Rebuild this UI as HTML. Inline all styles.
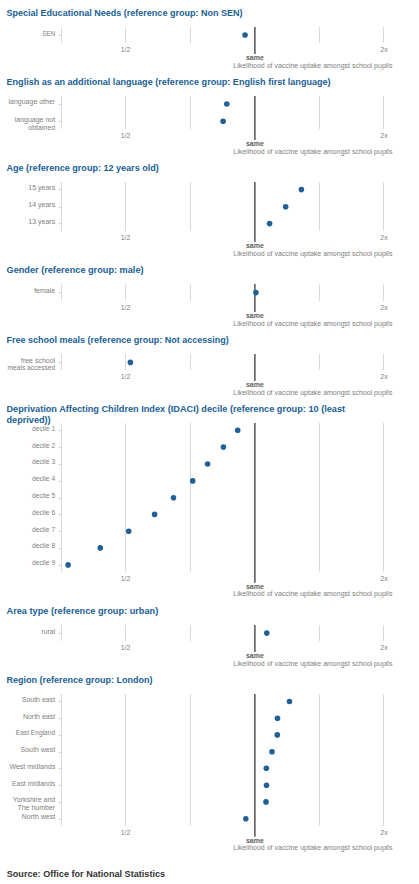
<!DOCTYPE html><html><head><meta charset="utf-8"><style>html,body{margin:0;padding:0;background:#fff;width:419px;height:884px;overflow:hidden}svg{display:block}text{font-family:"Liberation Sans",sans-serif}</style></head><body>
<svg width="419" height="884" viewBox="0 0 419 884">
<text x="6.5" y="15.5" font-size="9" font-weight="bold" fill="#206095" textLength="236.06" lengthAdjust="spacingAndGlyphs">Special Educational Needs (reference group: Non SEN)</text>
<line x1="61.5" y1="27.0" x2="61.5" y2="43.0" stroke="#d9d9d9" stroke-width="1"/>
<line x1="125.5" y1="27.0" x2="125.5" y2="43.0" stroke="#d9d9d9" stroke-width="1"/>
<line x1="190.5" y1="27.0" x2="190.5" y2="43.0" stroke="#d9d9d9" stroke-width="1"/>
<line x1="319.5" y1="27.0" x2="319.5" y2="43.0" stroke="#d9d9d9" stroke-width="1"/>
<line x1="383.5" y1="27.0" x2="383.5" y2="43.0" stroke="#d9d9d9" stroke-width="1"/>
<line x1="58" y1="35.5" x2="61" y2="35.5" stroke="#d9d9d9" stroke-width="1"/>
<text x="55.2" y="36.1" font-size="7" fill="#808080" text-anchor="end" textLength="12.91" lengthAdjust="spacingAndGlyphs">SEN</text>
<line x1="254.85" y1="27.0" x2="254.85" y2="54.0" stroke="#666666" stroke-width="1.7"/>
<text x="125.5" y="51.9" font-size="7" fill="#808080" text-anchor="middle">1/2</text>
<text x="384" y="51.9" font-size="7" fill="#808080" text-anchor="middle">2x</text>
<text x="254.85" y="59.8" font-size="7" font-weight="bold" fill="#606060" text-anchor="middle">same</text>
<text x="392.4" y="67.7" font-size="7" fill="#808080" text-anchor="end">Likelihood of vaccine uptake amongst school pupils</text>
<circle cx="245.05" cy="35.05" r="2.8" fill="#206095"/>
<text x="6.5" y="85.4" font-size="9" font-weight="bold" fill="#206095" textLength="324.16" lengthAdjust="spacingAndGlyphs">English as an additional language (reference group: English first language)</text>
<line x1="61.5" y1="96.0" x2="61.5" y2="129.0" stroke="#d9d9d9" stroke-width="1"/>
<line x1="125.5" y1="96.0" x2="125.5" y2="129.0" stroke="#d9d9d9" stroke-width="1"/>
<line x1="190.5" y1="96.0" x2="190.5" y2="129.0" stroke="#d9d9d9" stroke-width="1"/>
<line x1="319.5" y1="96.0" x2="319.5" y2="129.0" stroke="#d9d9d9" stroke-width="1"/>
<line x1="383.5" y1="96.0" x2="383.5" y2="129.0" stroke="#d9d9d9" stroke-width="1"/>
<line x1="58" y1="104.5" x2="61" y2="104.5" stroke="#d9d9d9" stroke-width="1"/>
<text x="55.2" y="104.4" font-size="7" fill="#808080" text-anchor="end">language other</text>
<line x1="58" y1="121.5" x2="61" y2="121.5" stroke="#d9d9d9" stroke-width="1"/>
<text x="55.2" y="121.6" font-size="7" fill="#808080" text-anchor="end">language not</text>
<text x="55.2" y="129.6" font-size="7" fill="#808080" text-anchor="end">obtained</text>
<line x1="254.85" y1="96.0" x2="254.85" y2="140.0" stroke="#666666" stroke-width="1.7"/>
<text x="125.5" y="137.9" font-size="7" fill="#808080" text-anchor="middle">1/2</text>
<text x="384" y="137.9" font-size="7" fill="#808080" text-anchor="middle">2x</text>
<text x="254.85" y="145.8" font-size="7" font-weight="bold" fill="#606060" text-anchor="middle">same</text>
<text x="392.4" y="153.7" font-size="7" fill="#808080" text-anchor="end">Likelihood of vaccine uptake amongst school pupils</text>
<circle cx="226.8" cy="104.0" r="2.8" fill="#206095"/>
<circle cx="223.1" cy="121.3" r="2.8" fill="#206095"/>
<text x="6.5" y="171.0" font-size="9" font-weight="bold" fill="#206095" textLength="152.25" lengthAdjust="spacingAndGlyphs">Age (reference group: 12 years old)</text>
<line x1="61.5" y1="182.0" x2="61.5" y2="231.0" stroke="#d9d9d9" stroke-width="1"/>
<line x1="125.5" y1="182.0" x2="125.5" y2="231.0" stroke="#d9d9d9" stroke-width="1"/>
<line x1="190.5" y1="182.0" x2="190.5" y2="231.0" stroke="#d9d9d9" stroke-width="1"/>
<line x1="319.5" y1="182.0" x2="319.5" y2="231.0" stroke="#d9d9d9" stroke-width="1"/>
<line x1="383.5" y1="182.0" x2="383.5" y2="231.0" stroke="#d9d9d9" stroke-width="1"/>
<line x1="58" y1="189.5" x2="61" y2="189.5" stroke="#d9d9d9" stroke-width="1"/>
<text x="55.2" y="189.8" font-size="7" fill="#808080" text-anchor="end">15 years</text>
<line x1="58" y1="207.5" x2="61" y2="207.5" stroke="#d9d9d9" stroke-width="1"/>
<text x="55.2" y="206.8" font-size="7" fill="#808080" text-anchor="end">14 years</text>
<line x1="58" y1="223.5" x2="61" y2="223.5" stroke="#d9d9d9" stroke-width="1"/>
<text x="55.2" y="223.8" font-size="7" fill="#808080" text-anchor="end">13 years</text>
<line x1="254.85" y1="182.0" x2="254.85" y2="242.0" stroke="#666666" stroke-width="1.7"/>
<text x="125.5" y="239.9" font-size="7" fill="#808080" text-anchor="middle">1/2</text>
<text x="384" y="239.9" font-size="7" fill="#808080" text-anchor="middle">2x</text>
<text x="254.85" y="247.8" font-size="7" font-weight="bold" fill="#606060" text-anchor="middle">same</text>
<text x="392.4" y="255.7" font-size="7" fill="#808080" text-anchor="end">Likelihood of vaccine uptake amongst school pupils</text>
<circle cx="301.4" cy="189.6" r="2.8" fill="#206095"/>
<circle cx="285.7" cy="206.7" r="2.8" fill="#206095"/>
<circle cx="269.6" cy="223.6" r="2.8" fill="#206095"/>
<text x="6.5" y="273.4" font-size="9" font-weight="bold" fill="#206095" textLength="137.05" lengthAdjust="spacingAndGlyphs">Gender (reference group: male)</text>
<line x1="61.5" y1="284.0" x2="61.5" y2="301.0" stroke="#d9d9d9" stroke-width="1"/>
<line x1="125.5" y1="284.0" x2="125.5" y2="301.0" stroke="#d9d9d9" stroke-width="1"/>
<line x1="190.5" y1="284.0" x2="190.5" y2="301.0" stroke="#d9d9d9" stroke-width="1"/>
<line x1="319.5" y1="284.0" x2="319.5" y2="301.0" stroke="#d9d9d9" stroke-width="1"/>
<line x1="383.5" y1="284.0" x2="383.5" y2="301.0" stroke="#d9d9d9" stroke-width="1"/>
<line x1="58" y1="292.5" x2="61" y2="292.5" stroke="#d9d9d9" stroke-width="1"/>
<text x="55.2" y="292.6" font-size="7" fill="#808080" text-anchor="end">female</text>
<line x1="254.85" y1="284.0" x2="254.85" y2="312.0" stroke="#666666" stroke-width="1.7"/>
<text x="125.5" y="309.9" font-size="7" fill="#808080" text-anchor="middle">1/2</text>
<text x="384" y="309.9" font-size="7" fill="#808080" text-anchor="middle">2x</text>
<text x="254.85" y="317.8" font-size="7" font-weight="bold" fill="#606060" text-anchor="middle">same</text>
<text x="392.4" y="325.7" font-size="7" fill="#808080" text-anchor="end">Likelihood of vaccine uptake amongst school pupils</text>
<circle cx="255.9" cy="292.6" r="2.8" fill="#206095"/>
<text x="6.5" y="343.0" font-size="9" font-weight="bold" fill="#206095" textLength="222.28" lengthAdjust="spacingAndGlyphs">Free school meals (reference group: Not accessing)</text>
<line x1="61.5" y1="354.0" x2="61.5" y2="370.0" stroke="#d9d9d9" stroke-width="1"/>
<line x1="125.5" y1="354.0" x2="125.5" y2="370.0" stroke="#d9d9d9" stroke-width="1"/>
<line x1="190.5" y1="354.0" x2="190.5" y2="370.0" stroke="#d9d9d9" stroke-width="1"/>
<line x1="319.5" y1="354.0" x2="319.5" y2="370.0" stroke="#d9d9d9" stroke-width="1"/>
<line x1="383.5" y1="354.0" x2="383.5" y2="370.0" stroke="#d9d9d9" stroke-width="1"/>
<line x1="58" y1="362.5" x2="61" y2="362.5" stroke="#d9d9d9" stroke-width="1"/>
<text x="55.2" y="363.3" font-size="7" fill="#808080" text-anchor="end">free school</text>
<text x="55.2" y="370.1" font-size="7" fill="#808080" text-anchor="end" textLength="47.70" lengthAdjust="spacingAndGlyphs">meals accessed</text>
<line x1="254.85" y1="354.0" x2="254.85" y2="381.0" stroke="#666666" stroke-width="1.7"/>
<text x="125.5" y="378.9" font-size="7" fill="#808080" text-anchor="middle">1/2</text>
<text x="384" y="378.9" font-size="7" fill="#808080" text-anchor="middle">2x</text>
<text x="254.85" y="386.8" font-size="7" font-weight="bold" fill="#606060" text-anchor="middle">same</text>
<text x="392.4" y="394.7" font-size="7" fill="#808080" text-anchor="end">Likelihood of vaccine uptake amongst school pupils</text>
<circle cx="130.4" cy="362.4" r="2.8" fill="#206095"/>
<text x="6.5" y="411.8" font-size="9" font-weight="bold" fill="#206095" textLength="338.63" lengthAdjust="spacingAndGlyphs">Deprivation Affecting Children Index (IDACI) decile (reference group: 10 (least</text>
<text x="6.5" y="423.1" font-size="9" font-weight="bold" fill="#206095" textLength="44.12" lengthAdjust="spacingAndGlyphs">deprived))</text>
<line x1="61.5" y1="423.0" x2="61.5" y2="571.7" stroke="#d9d9d9" stroke-width="1"/>
<line x1="125.5" y1="423.0" x2="125.5" y2="571.7" stroke="#d9d9d9" stroke-width="1"/>
<line x1="190.5" y1="423.0" x2="190.5" y2="571.7" stroke="#d9d9d9" stroke-width="1"/>
<line x1="319.5" y1="423.0" x2="319.5" y2="571.7" stroke="#d9d9d9" stroke-width="1"/>
<line x1="383.5" y1="423.0" x2="383.5" y2="571.7" stroke="#d9d9d9" stroke-width="1"/>
<line x1="58" y1="430.5" x2="61" y2="430.5" stroke="#d9d9d9" stroke-width="1"/>
<text x="55.2" y="431.0" font-size="7" fill="#808080" text-anchor="end" textLength="23.24" lengthAdjust="spacingAndGlyphs">decile 1</text>
<line x1="58" y1="447.5" x2="61" y2="447.5" stroke="#d9d9d9" stroke-width="1"/>
<text x="55.2" y="448.1" font-size="7" fill="#808080" text-anchor="end" textLength="23.24" lengthAdjust="spacingAndGlyphs">decile 2</text>
<line x1="58" y1="464.5" x2="61" y2="464.5" stroke="#d9d9d9" stroke-width="1"/>
<text x="55.2" y="464.2" font-size="7" fill="#808080" text-anchor="end" textLength="23.24" lengthAdjust="spacingAndGlyphs">decile 3</text>
<line x1="58" y1="481.5" x2="61" y2="481.5" stroke="#d9d9d9" stroke-width="1"/>
<text x="55.2" y="481.1" font-size="7" fill="#808080" text-anchor="end" textLength="23.24" lengthAdjust="spacingAndGlyphs">decile 4</text>
<line x1="58" y1="498.5" x2="61" y2="498.5" stroke="#d9d9d9" stroke-width="1"/>
<text x="55.2" y="498.0" font-size="7" fill="#808080" text-anchor="end" textLength="23.24" lengthAdjust="spacingAndGlyphs">decile 5</text>
<line x1="58" y1="514.5" x2="61" y2="514.5" stroke="#d9d9d9" stroke-width="1"/>
<text x="55.2" y="514.8" font-size="7" fill="#808080" text-anchor="end" textLength="23.24" lengthAdjust="spacingAndGlyphs">decile 6</text>
<line x1="58" y1="531.5" x2="61" y2="531.5" stroke="#d9d9d9" stroke-width="1"/>
<text x="55.2" y="531.5" font-size="7" fill="#808080" text-anchor="end" textLength="23.24" lengthAdjust="spacingAndGlyphs">decile 7</text>
<line x1="58" y1="548.5" x2="61" y2="548.5" stroke="#d9d9d9" stroke-width="1"/>
<text x="55.2" y="548.4" font-size="7" fill="#808080" text-anchor="end" textLength="23.24" lengthAdjust="spacingAndGlyphs">decile 8</text>
<line x1="58" y1="565.5" x2="61" y2="565.5" stroke="#d9d9d9" stroke-width="1"/>
<text x="55.2" y="564.8" font-size="7" fill="#808080" text-anchor="end" textLength="23.24" lengthAdjust="spacingAndGlyphs">decile 9</text>
<line x1="254.85" y1="423.0" x2="254.85" y2="582.7" stroke="#666666" stroke-width="1.7"/>
<text x="125.5" y="580.6" font-size="7" fill="#808080" text-anchor="middle">1/2</text>
<text x="384" y="580.6" font-size="7" fill="#808080" text-anchor="middle">2x</text>
<text x="254.85" y="588.5" font-size="7" font-weight="bold" fill="#606060" text-anchor="middle">same</text>
<text x="392.4" y="596.4" font-size="7" fill="#808080" text-anchor="end">Likelihood of vaccine uptake amongst school pupils</text>
<circle cx="237.7" cy="430.2" r="2.8" fill="#206095"/>
<circle cx="223.4" cy="447.1" r="2.8" fill="#206095"/>
<circle cx="207.6" cy="464.0" r="2.8" fill="#206095"/>
<circle cx="192.7" cy="480.9" r="2.8" fill="#206095"/>
<circle cx="173.5" cy="497.8" r="2.8" fill="#206095"/>
<circle cx="154.6" cy="514.4" r="2.8" fill="#206095"/>
<circle cx="128.7" cy="531.2" r="2.8" fill="#206095"/>
<circle cx="100.3" cy="547.9" r="2.8" fill="#206095"/>
<circle cx="68.1" cy="564.9" r="2.8" fill="#206095"/>
<text x="6.5" y="613.7" font-size="9" font-weight="bold" fill="#206095" textLength="151.73" lengthAdjust="spacingAndGlyphs">Area type (reference group: urban)</text>
<line x1="61.5" y1="625.0" x2="61.5" y2="641.0" stroke="#d9d9d9" stroke-width="1"/>
<line x1="125.5" y1="625.0" x2="125.5" y2="641.0" stroke="#d9d9d9" stroke-width="1"/>
<line x1="190.5" y1="625.0" x2="190.5" y2="641.0" stroke="#d9d9d9" stroke-width="1"/>
<line x1="319.5" y1="625.0" x2="319.5" y2="641.0" stroke="#d9d9d9" stroke-width="1"/>
<line x1="383.5" y1="625.0" x2="383.5" y2="641.0" stroke="#d9d9d9" stroke-width="1"/>
<line x1="58" y1="633.5" x2="61" y2="633.5" stroke="#d9d9d9" stroke-width="1"/>
<text x="55.2" y="634.3" font-size="7" fill="#808080" text-anchor="end">rural</text>
<line x1="254.85" y1="625.0" x2="254.85" y2="652.0" stroke="#666666" stroke-width="1.7"/>
<text x="125.5" y="649.9" font-size="7" fill="#808080" text-anchor="middle">1/2</text>
<text x="384" y="649.9" font-size="7" fill="#808080" text-anchor="middle">2x</text>
<text x="254.85" y="657.8" font-size="7" font-weight="bold" fill="#606060" text-anchor="middle">same</text>
<text x="392.4" y="665.7" font-size="7" fill="#808080" text-anchor="end">Likelihood of vaccine uptake amongst school pupils</text>
<circle cx="266.8" cy="633.1" r="2.8" fill="#206095"/>
<text x="6.5" y="682.6" font-size="9" font-weight="bold" fill="#206095" textLength="145.90" lengthAdjust="spacingAndGlyphs">Region (reference group: London)</text>
<line x1="61.5" y1="694.0" x2="61.5" y2="825.7" stroke="#d9d9d9" stroke-width="1"/>
<line x1="125.5" y1="694.0" x2="125.5" y2="825.7" stroke="#d9d9d9" stroke-width="1"/>
<line x1="190.5" y1="694.0" x2="190.5" y2="825.7" stroke="#d9d9d9" stroke-width="1"/>
<line x1="319.5" y1="694.0" x2="319.5" y2="825.7" stroke="#d9d9d9" stroke-width="1"/>
<line x1="383.5" y1="694.0" x2="383.5" y2="825.7" stroke="#d9d9d9" stroke-width="1"/>
<line x1="58" y1="701.5" x2="61" y2="701.5" stroke="#d9d9d9" stroke-width="1"/>
<text x="55.2" y="702.4" font-size="7" fill="#808080" text-anchor="end">South east</text>
<line x1="58" y1="718.5" x2="61" y2="718.5" stroke="#d9d9d9" stroke-width="1"/>
<text x="55.2" y="719.0" font-size="7" fill="#808080" text-anchor="end">North east</text>
<line x1="58" y1="735.5" x2="61" y2="735.5" stroke="#d9d9d9" stroke-width="1"/>
<text x="55.2" y="735.2" font-size="7" fill="#808080" text-anchor="end" textLength="39.46" lengthAdjust="spacingAndGlyphs">East England</text>
<line x1="58" y1="752.5" x2="61" y2="752.5" stroke="#d9d9d9" stroke-width="1"/>
<text x="55.2" y="752.0" font-size="7" fill="#808080" text-anchor="end">South west</text>
<line x1="58" y1="768.5" x2="61" y2="768.5" stroke="#d9d9d9" stroke-width="1"/>
<text x="55.2" y="768.8" font-size="7" fill="#808080" text-anchor="end">West midlands</text>
<line x1="58" y1="785.5" x2="61" y2="785.5" stroke="#d9d9d9" stroke-width="1"/>
<text x="55.2" y="785.6" font-size="7" fill="#808080" text-anchor="end" textLength="43.17" lengthAdjust="spacingAndGlyphs">East midlands</text>
<line x1="58" y1="802.5" x2="61" y2="802.5" stroke="#d9d9d9" stroke-width="1"/>
<text x="55.2" y="802.4" font-size="7" fill="#808080" text-anchor="end">Yorkshire and</text>
<text x="55.2" y="810.3" font-size="7" fill="#808080" text-anchor="end">The humber</text>
<line x1="58" y1="819.5" x2="61" y2="819.5" stroke="#d9d9d9" stroke-width="1"/>
<text x="55.2" y="819.3" font-size="7" fill="#808080" text-anchor="end">North west</text>
<line x1="254.85" y1="694.0" x2="254.85" y2="836.7" stroke="#666666" stroke-width="1.7"/>
<text x="125.5" y="834.6" font-size="7" fill="#808080" text-anchor="middle">1/2</text>
<text x="384" y="834.6" font-size="7" fill="#808080" text-anchor="middle">2x</text>
<text x="254.85" y="842.5" font-size="7" font-weight="bold" fill="#606060" text-anchor="middle">same</text>
<text x="392.4" y="850.4" font-size="7" fill="#808080" text-anchor="end">Likelihood of vaccine uptake amongst school pupils</text>
<circle cx="289.5" cy="701.5" r="2.8" fill="#206095"/>
<circle cx="277.5" cy="718.2" r="2.8" fill="#206095"/>
<circle cx="277.3" cy="734.9" r="2.8" fill="#206095"/>
<circle cx="272.0" cy="751.8" r="2.8" fill="#206095"/>
<circle cx="266.3" cy="768.3" r="2.8" fill="#206095"/>
<circle cx="266.5" cy="785.2" r="2.8" fill="#206095"/>
<circle cx="266.0" cy="801.9" r="2.8" fill="#206095"/>
<circle cx="245.8" cy="818.7" r="2.8" fill="#206095"/>
<text x="6.7" y="877.2" font-size="9" font-weight="bold" fill="#323132" textLength="158.45" lengthAdjust="spacingAndGlyphs">Source: Office for National Statistics</text>
</svg></body></html>
